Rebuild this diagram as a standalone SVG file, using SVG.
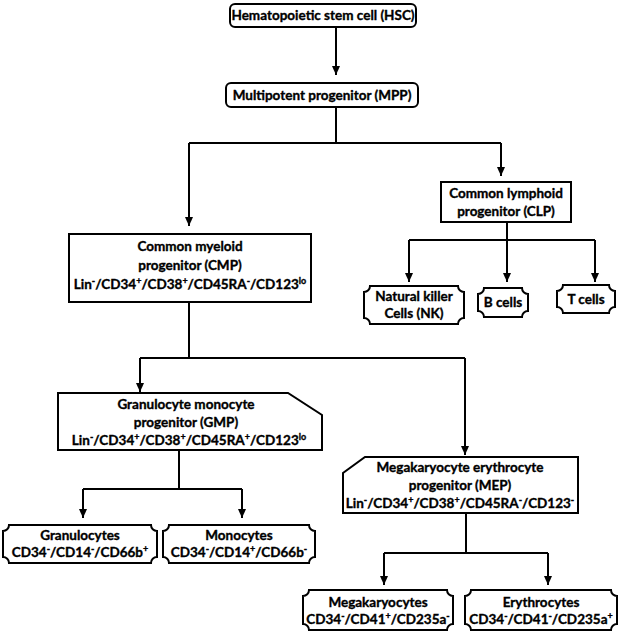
<svg xmlns="http://www.w3.org/2000/svg" width="625" height="637" viewBox="0 0 625 637">
<style>
.box{fill:#fff;stroke:#000;stroke-width:2}
.t{font-family:Lato,"Liberation Sans",sans-serif;font-weight:bold;font-size:13.5px;text-anchor:middle;fill:#000;stroke:#000;stroke-width:0.35px}
.c{fill:none;stroke:#000;stroke-width:2}
</style>
<defs>
<marker id="ah" markerUnits="userSpaceOnUse" markerWidth="9" markerHeight="8" refX="9" refY="4" orient="auto">
<path d="M0,0 L9,4 L0,8 z" fill="#000"/>
</marker>
</defs>
<rect width="625" height="637" fill="#fff"/>
<g id="connectors">
<path class="c" d="M336,27 V75" marker-end="url(#ah)"/>
<path class="c" d="M336,107 V143 M189,143 H501"/>
<path class="c" d="M189,143 V226" marker-end="url(#ah)"/>
<path class="c" d="M501,143 V176" marker-end="url(#ah)"/>
<path class="c" d="M507,222 V240 M409,240 H595"/>
<path class="c" d="M409,240 V282" marker-end="url(#ah)"/>
<path class="c" d="M507,240 V282" marker-end="url(#ah)"/>
<path class="c" d="M595,240 V282" marker-end="url(#ah)"/>
<path class="c" d="M189,302 V358 M140,358 H465"/>
<path class="c" d="M140,358 V392" marker-end="url(#ah)"/>
<path class="c" d="M465,358 V455" marker-end="url(#ah)"/>
<path class="c" d="M179,450 V489 M83,489 H242"/>
<path class="c" d="M83,489 V518" marker-end="url(#ah)"/>
<path class="c" d="M242,489 V518" marker-end="url(#ah)"/>
<path class="c" d="M466,513 V553 M384,553 H548"/>
<path class="c" d="M384,553 V585" marker-end="url(#ah)"/>
<path class="c" d="M548,553 V585" marker-end="url(#ah)"/>
</g>
<g id="hsc">
<rect class="box" x="230" y="4" width="186" height="23" rx="5"/>
<text class="t" x="323" y="20">Hematopoietic stem cell (HSC)</text>
</g>
<g id="mpp">
<rect class="box" x="226" y="83" width="192" height="24" rx="5"/>
<text class="t" x="322" y="100">Multipotent progenitor (MPP)</text>
</g>
<g id="cmp">
<rect class="box" x="69" y="234" width="242" height="68"/>
<text class="t" x="190" y="251">Common myeloid</text>
<text class="t" x="190" y="270">progenitor (CMP)</text>
<text class="t" x="190" y="289">Lin<tspan font-size="9" baseline-shift="super">-</tspan>/CD34<tspan font-size="9" baseline-shift="super">+</tspan>/CD38<tspan font-size="9" baseline-shift="super">+</tspan>/CD45RA<tspan font-size="9" baseline-shift="super">-</tspan>/CD123<tspan font-size="9" baseline-shift="super">lo</tspan></text>
</g>
<g id="clp">
<rect class="box" x="441" y="182" width="130" height="40"/>
<text class="t" x="506" y="198">Common lymphoid</text>
<text class="t" x="506" y="216">progenitor (CLP)</text>
</g>
<g id="nk">
<path class="box" d="M370,286 H458 A6,6 0 0 0 464,292 V318 A6,6 0 0 0 458,324 H370 A6,6 0 0 0 364,318 V292 A6,6 0 0 0 370,286 Z"/>
<text class="t" x="414" y="301">Natural killer</text>
<text class="t" x="414" y="318">Cells (NK)</text>
</g>
<g id="bcells">
<path class="box" d="M484,288 H522 A6,6 0 0 0 528,294 V311 A6,6 0 0 0 522,317 H484 A6,6 0 0 0 478,311 V294 A6,6 0 0 0 484,288 Z"/>
<text class="t" x="503" y="307">B cells</text>
</g>
<g id="tcells">
<path class="box" d="M563,285 H609 A6,6 0 0 0 615,291 V307 A6,6 0 0 0 609,313 H563 A6,6 0 0 0 557,307 V291 A6,6 0 0 0 563,285 Z"/>
<text class="t" x="586" y="304">T cells</text>
</g>
<g id="gmp">
<path class="box" d="M58,393 H288 L322,415 V450 H58 Z"/>
<text class="t" x="186" y="409">Granulocyte monocyte</text>
<text class="t" x="186" y="427">progenitor (GMP)</text>
<text class="t" x="189" y="445">Lin<tspan font-size="9" baseline-shift="super">-</tspan>/CD34<tspan font-size="9" baseline-shift="super">+</tspan>/CD38<tspan font-size="9" baseline-shift="super">+</tspan>/CD45RA<tspan font-size="9" baseline-shift="super">+</tspan>/CD123<tspan font-size="9" baseline-shift="super">lo</tspan></text>
</g>
<g id="mep">
<path class="box" d="M365,457 H578 V513 H343 V473 Z"/>
<text class="t" x="460" y="472">Megakaryocyte erythrocyte</text>
<text class="t" x="460" y="490">progenitor (MEP)</text>
<text class="t" x="460" y="508">Lin<tspan font-size="9" baseline-shift="super">-</tspan>/CD34<tspan font-size="9" baseline-shift="super">+</tspan>/CD38<tspan font-size="9" baseline-shift="super">+</tspan>/CD45RA<tspan font-size="9" baseline-shift="super">-</tspan>/CD123<tspan font-size="9" baseline-shift="super">-</tspan></text>
</g>
<g id="granulocytes">
<path class="box" d="M9,525 H151 A6,6 0 0 0 157,531 V557 A6,6 0 0 0 151,563 H9 A6,6 0 0 0 3,557 V531 A6,6 0 0 0 9,525 Z"/>
<text class="t" x="80" y="540">Granulocytes</text>
<text class="t" x="80" y="557">CD34<tspan font-size="9" baseline-shift="super">-</tspan>/CD14<tspan font-size="9" baseline-shift="super">-</tspan>/CD66b<tspan font-size="9" baseline-shift="super">+</tspan></text>
</g>
<g id="monocytes">
<path class="box" d="M169,525 H309 A6,6 0 0 0 315,531 V557 A6,6 0 0 0 309,563 H169 A6,6 0 0 0 163,557 V531 A6,6 0 0 0 169,525 Z"/>
<text class="t" x="239" y="540">Monocytes</text>
<text class="t" x="239" y="557">CD34<tspan font-size="9" baseline-shift="super">-</tspan>/CD14<tspan font-size="9" baseline-shift="super">+</tspan>/CD66b<tspan font-size="9" baseline-shift="super">-</tspan></text>
</g>
<g id="megakaryocytes">
<path class="box" d="M309,590 H447 A6,6 0 0 0 453,596 V624 A6,6 0 0 0 447,630 H309 A6,6 0 0 0 303,624 V596 A6,6 0 0 0 309,590 Z"/>
<text class="t" x="378" y="607">Megakaryocytes</text>
<text class="t" x="378" y="624">CD34<tspan font-size="9" baseline-shift="super">-</tspan>/CD41<tspan font-size="9" baseline-shift="super">+</tspan>/CD235a<tspan font-size="9" baseline-shift="super">-</tspan></text>
</g>
<g id="erythrocytes">
<path class="box" d="M471,590 H611 A6,6 0 0 0 617,596 V624 A6,6 0 0 0 611,630 H471 A6,6 0 0 0 465,624 V596 A6,6 0 0 0 471,590 Z"/>
<text class="t" x="541" y="607">Erythrocytes</text>
<text class="t" x="541" y="624">CD34<tspan font-size="9" baseline-shift="super">-</tspan>/CD41<tspan font-size="9" baseline-shift="super">-</tspan>/CD235a<tspan font-size="9" baseline-shift="super">+</tspan></text>
</g>
</svg>
